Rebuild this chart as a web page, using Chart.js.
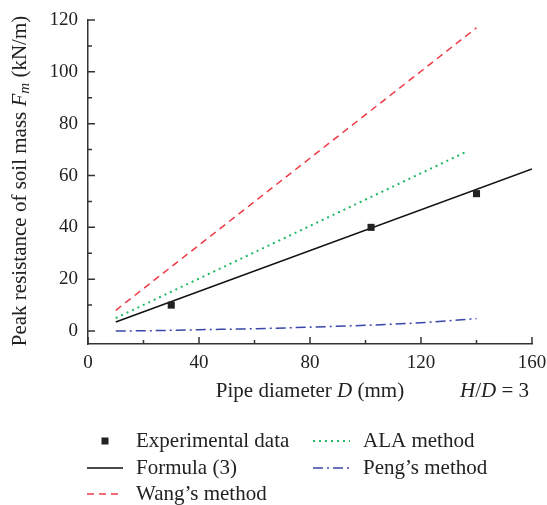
<!DOCTYPE html>
<html>
<head>
    <title>Peak resistance of soil mass</title>
    <script src="https://cdn.jsdelivr.net/npm/chart.js"></script>
    <style>
        html, body { margin: 0; padding: 0; background: #fff; }
    </style>
</head>
<body>
    <canvas id="fmChart" width="547" height="505"></canvas>
    <script>
        // data
        var expD = [30, 102, 140];
        var expF = [10, 40, 53];
        var formulaD = [10, 160];
        var formulaF = [3.5, 62.5];
        var wangD = [10, 140];
        var wangF = [8, 117];
        var alaD = [10, 136];
        var alaF = [5, 69];
        var pengD = [10, 20, 40, 60, 80, 100, 120, 140];
        var pengF = [0, 0.1, 0.5, 0.9, 1.5, 2.2, 3.2, 4.8];
        var xTicks = [0, 40, 80, 120, 160];
        var yTicks = [0, 20, 40, 60, 80, 100, 120];

        var serif = '"Liberation Serif", "DejaVu Serif", serif';
        var axisColor = '#333333';
        var txt = '21px ' + serif;
        var txtIt = 'italic 21px ' + serif;

        function pts(xs, ys) {
            return xs.map(function(x, i) { return { x: x, y: ys[i] }; });
        }

        // inward ticks, axis titles and legend
        var decorPlugin = {
            id: 'decor',
            afterDraw: function(chart) {
                var ctx = chart.ctx;
                var xs = chart.scales.x, ys = chart.scales.y;
                var area = chart.chartArea;
                ctx.save();
                ctx.strokeStyle = axisColor;
                ctx.lineWidth = 1.5;
                ctx.beginPath();
                for (var v = 0; v <= 160; v += 20) {
                    var px = xs.getPixelForValue(v);
                    var len = (v % 40 === 0) ? 7 : 4;
                    ctx.moveTo(px, area.bottom);
                    ctx.lineTo(px, area.bottom - len);
                }
                for (var w = 0; w <= 120; w += 10) {
                    var py = ys.getPixelForValue(w);
                    var l2 = (w % 20 === 0) ? 7 : 4;
                    ctx.moveTo(area.left, py);
                    ctx.lineTo(area.left + l2, py);
                }
                ctx.stroke();

                // y title with italic F and subscript m
                ctx.fillStyle = '#222';
                ctx.textBaseline = 'middle';
                ctx.textAlign = 'left';
                var parts = [
                    { t: 'Peak resistance of soil mass ', f: txt, dy: 0 },
                    { t: 'F', f: txtIt, dy: 0 },
                    { t: 'm', f: 'italic 15px ' + serif, dy: 5 },
                    { t: ' (kN/m)', f: txt, dy: 0 }
                ];
                var total = 0;
                parts.forEach(function(p) { ctx.font = p.f; p.w = ctx.measureText(p.t).width; total += p.w; });
                ctx.save();
                ctx.translate(20, 181);
                ctx.rotate(-Math.PI / 2);
                var cx = -total / 2;
                parts.forEach(function(p) { ctx.font = p.f; ctx.fillText(p.t, cx, p.dy); cx += p.w; });
                ctx.restore();

                // x title
                var xparts = [
                    { t: 'Pipe diameter ', f: txt },
                    { t: 'D', f: txtIt },
                    { t: ' (mm)', f: txt }
                ];
                total = 0;
                xparts.forEach(function(p) { ctx.font = p.f; p.w = ctx.measureText(p.t).width; total += p.w; });
                cx = xs.getPixelForValue(80) - total / 2;
                xparts.forEach(function(p) { ctx.font = p.f; ctx.fillText(p.t, cx, 391); cx += p.w; });

                var hparts = [
                    { t: 'H', f: txtIt },
                    { t: '/', f: txt },
                    { t: 'D', f: txtIt },
                    { t: ' = 3', f: txt }
                ];
                cx = 460;
                hparts.forEach(function(p) { ctx.font = p.f; ctx.fillText(p.t, cx, 391); cx += ctx.measureText(p.t).width; });

                // legend, two columns
                var slots = [
                    { x0: 87, x1: 123, tx: 136, y: 441 },
                    { x0: 87, x1: 123, tx: 136, y: 468 },
                    { x0: 87, x1: 123, tx: 136, y: 494 },
                    { x0: 313, x1: 350, tx: 363, y: 441 },
                    { x0: 313, x1: 350, tx: 363, y: 468 }
                ];
                chart.data.datasets.forEach(function(ds, i) {
                    var s = slots[i];
                    if (ds.showLine === false) {
                        ctx.fillStyle = ds.backgroundColor;
                        ctx.fillRect((s.x0 + s.x1) / 2 - 3.5, s.y - 3.5, 7, 7);
                    } else {
                        ctx.strokeStyle = ds.borderColor;
                        ctx.lineWidth = ds.borderWidth;
                        ctx.setLineDash(ds.borderDash || []);
                        ctx.beginPath();
                        ctx.moveTo(s.x0, s.y);
                        ctx.lineTo(s.x1, s.y);
                        ctx.stroke();
                        ctx.setLineDash([]);
                    }
                    ctx.fillStyle = '#222';
                    ctx.font = txt;
                    ctx.fillText(ds.label, s.tx, s.y);
                });
                ctx.restore();
            }
        };

        var ctx = document.getElementById('fmChart').getContext('2d');
        new Chart(ctx, {
            type: 'scatter',
            data: {
                datasets: [{
                    label: 'Experimental data',
                    data: pts(expD, expF),
                    showLine: false,
                    pointStyle: 'rect',
                    pointRadius: 5,
                    backgroundColor: '#222222',
                    borderColor: '#222222',
                    borderWidth: 0
                }, {
                    label: 'Formula (3)',
                    data: pts(formulaD, formulaF),
                    showLine: true,
                    pointRadius: 0,
                    borderColor: '#111111',
                    borderWidth: 1.5
                }, {
                    label: 'Wang\u2019s method',
                    data: pts(wangD, wangF),
                    showLine: true,
                    pointRadius: 0,
                    borderColor: '#ee3a45',
                    borderWidth: 1.5,
                    borderDash: [7, 5]
                }, {
                    label: 'ALA method',
                    data: pts(alaD, alaF),
                    showLine: true,
                    pointRadius: 0,
                    borderColor: '#1fb865',
                    borderWidth: 2,
                    borderDash: [2, 4]
                }, {
                    label: 'Peng\u2019s method',
                    data: pts(pengD, pengF),
                    showLine: true,
                    pointRadius: 0,
                    borderColor: '#3a46a8',
                    borderWidth: 1.5,
                    borderDash: [10, 4, 2, 4],
                    cubicInterpolationMode: 'monotone'
                }]
            },
            options: {
                responsive: false,
                animation: false,
                layout: { padding: { top: 20, right: 15, left: 0, bottom: 0 } },
                plugins: {
                    legend: { display: false },
                    tooltip: { enabled: false }
                },
                scales: {
                    x: {
                        type: 'linear',
                        min: 0,
                        max: 160,
                        afterBuildTicks: function(axis) {
                            axis.ticks = xTicks.map(function(v) { return { value: v }; });
                        },
                        afterFit: function(scale) {
                            scale.height = 161;
                            scale.paddingLeft = 0;
                            scale.paddingRight = 0;
                        },
                        ticks: {
                            padding: 8,
                            color: '#222',
                            font: { family: serif, size: 19 }
                        },
                        grid: { drawOnChartArea: false, drawTicks: false },
                        border: { display: true, color: axisColor, width: 1.5 }
                    },
                    y: {
                        type: 'linear',
                        min: -5,
                        max: 120,
                        afterBuildTicks: function(axis) {
                            axis.ticks = yTicks.map(function(v) { return { value: v }; });
                        },
                        afterFit: function(scale) {
                            scale.width = 88;
                            scale.paddingTop = 0;
                            scale.paddingBottom = 0;
                        },
                        ticks: {
                            padding: 10,
                            color: '#222',
                            font: { family: serif, size: 19 }
                        },
                        grid: { drawOnChartArea: false, drawTicks: false },
                        border: { display: true, color: axisColor, width: 1.5 }
                    }
                }
            },
            plugins: [decorPlugin]
        });
    </script>
</body>
</html>
